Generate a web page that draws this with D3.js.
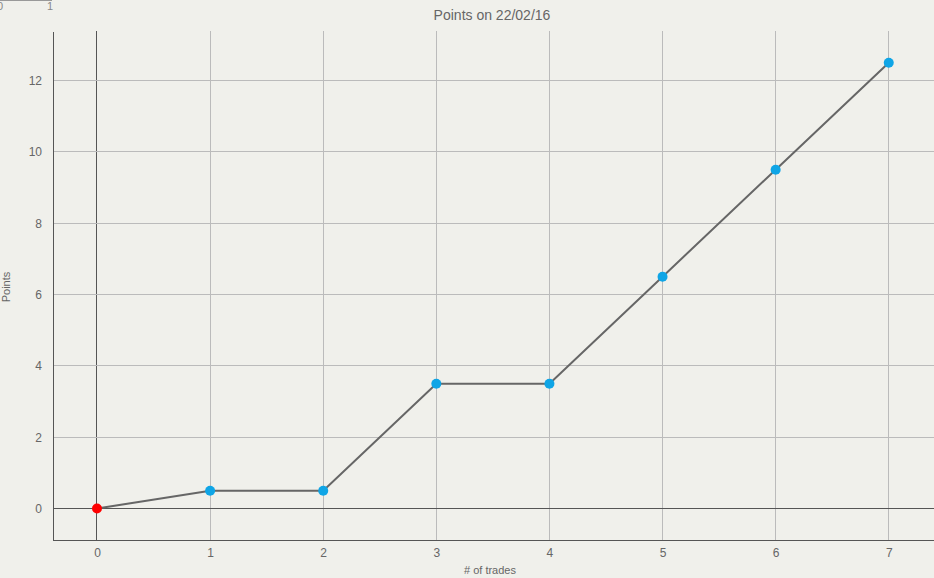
<!DOCTYPE html>
<html><head><meta charset="utf-8">
<script src="https://cdn.jsdelivr.net/npm/d3@7"></script>
<style>
html,body{margin:0;padding:0;background:#f0f0eb;}
svg{display:block;font-family:"Liberation Sans",Arial,sans-serif;}
</style></head>
<body>
<svg id="c" width="934" height="578"></svg>
<script>
const trades = [0, 1, 2, 3, 4, 5, 6, 7];
const points = [0, 0.5, 0.5, 3.5, 3.5, 6.5, 9.5, 12.5];
const xTicks = [0, 1, 2, 3, 4, 5, 6, 7];
const yTicks = [0, 2, 4, 6, 8, 10, 12];
const title = "Points on 22/02/16";
const xLabel = "# of trades";
const yLabel = "Points";

(function(){
const svg = d3.select("#c");
const mLeft = 53, mRight = 934, mTop = 31, mBottom = 540;

const x = d3.scaleLinear().domain([-0.389, 7.40]).range([mLeft, mRight]);
const y = d3.scaleLinear().domain([-0.883, 13.388]).range([mBottom, mTop]);

// small top-left scale
const mini = d3.scaleLinear().domain([0, 1]).range([0, 50]);
svg.append("line").attr("x1", mini(0)).attr("x2", mini(1)+2).attr("y1", 0.5).attr("y2", 0.5)
  .attr("stroke", "#999").attr("stroke-width", 1);
[0, 1].forEach(v => svg.append("text").attr("x", mini(v)).attr("y", 10).attr("text-anchor", "middle")
  .attr("font-size", 11).attr("fill", "#888").text(v));

// grid
svg.append("g").selectAll("line").data(xTicks).join("line")
  .attr("x1", d => x(d)).attr("x2", d => x(d)).attr("y1", mTop).attr("y2", mBottom)
  .attr("stroke", d => d === 0 ? "#555" : "#bbb").attr("stroke-width", 1)
  .attr("shape-rendering", "crispEdges");
svg.append("g").selectAll("line").data(yTicks).join("line")
  .attr("x1", mLeft).attr("x2", mRight).attr("y1", d => y(d)).attr("y2", d => y(d))
  .attr("stroke", d => d === 0 ? "#555" : "#bbb").attr("stroke-width", 1)
  .attr("shape-rendering", "crispEdges");

// axes
const xa = svg.append("g").attr("transform", `translate(0,${mBottom})`)
  .call(d3.axisBottom(x).tickValues(xTicks).tickSize(0).tickPadding(8).tickFormat(d3.format("d")));
const ya = svg.append("g").attr("transform", `translate(${mLeft},0)`)
  .call(d3.axisLeft(y).tickValues(yTicks).tickSize(0).tickPadding(11).tickFormat(d3.format("d")));
[xa, ya].forEach(a => {
  a.select(".domain").attr("stroke", "#555").attr("stroke-width", 1.5).attr("shape-rendering", "crispEdges");
  a.selectAll("text").attr("fill", "#666").attr("font-size", 12).attr("font-family", "Liberation Sans, Arial, sans-serif");
});

// line
svg.append("path").datum(trades.map((t, i) => [t, points[i]]))
  .attr("d", d3.line().x(d => x(d[0])).y(d => y(d[1])))
  .attr("fill", "none").attr("stroke", "#666").attr("stroke-width", 2);

// points
svg.append("g").selectAll("circle").data(trades.map((t, i) => [t, points[i]])).join("circle")
  .attr("cx", d => x(d[0])).attr("cy", d => y(d[1])).attr("r", 5)
  .attr("fill", (d, i) => i === 0 ? "#ff0000" : "#0fa5e6");

// labels
svg.append("text").attr("x", 492).attr("y", 20).attr("text-anchor", "middle")
  .attr("font-size", 14).attr("fill", "#666").text(title);
svg.append("text").attr("x", 490).attr("y", 574).attr("text-anchor", "middle")
  .attr("font-size", 11).attr("fill", "#666").text(xLabel);
svg.append("text").attr("transform", "translate(10,287) rotate(-90)").attr("text-anchor", "middle")
  .attr("font-size", 11).attr("fill", "#666").text(yLabel);
})();
</script>
</body></html>
